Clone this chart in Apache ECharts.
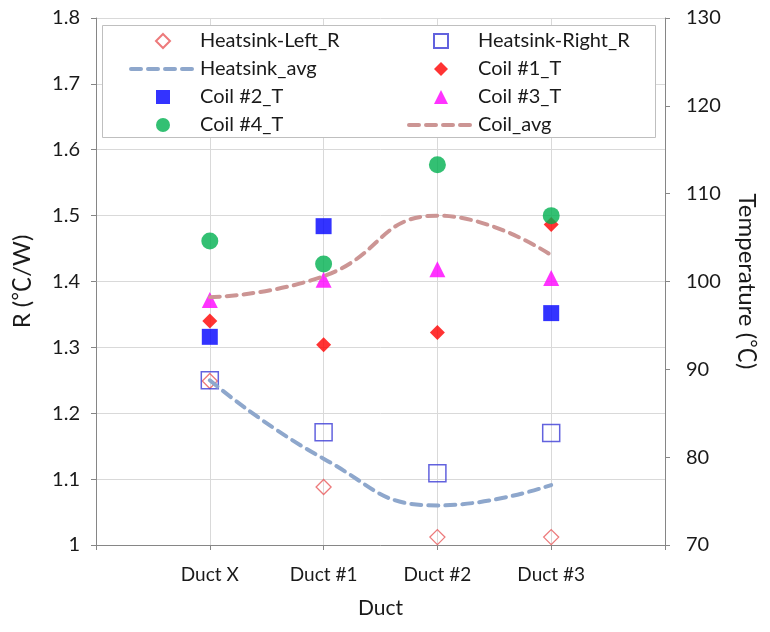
<!DOCTYPE html>
<html><head><meta charset="utf-8">
<script src="https://cdn.jsdelivr.net/npm/echarts@6/dist/echarts.min.js"></script>
<style>html,body{margin:0;padding:0;background:#fff}#c{width:770px;height:632px}</style>
</head><body><div id="c"></div>
<script>
// ---- data ----
const categories = ['Duct X', 'Duct #1', 'Duct #2', 'Duct #3'];
const heatsinkLeftR  = [1.249, 1.088, 1.012, 1.012];
const heatsinkRightR = [1.250, 1.171, 1.109, 1.170];
const heatsinkAvg    = [1.250, 1.131, 1.060, 1.091];
const coil1T = [95.5, 92.8, 94.2, 106.5];
const coil2T = [93.7, 106.3, null, 96.4];
const coil3T = [97.9, 100.2, 101.4, 100.4];
const coil4T = [104.6, 102.0, 113.3, 107.5];
const coilAvg = [98.2, 100.6, 107.5, 103.0];
const rAxisTicks = [1, 1.1, 1.2, 1.3, 1.4, 1.5, 1.6, 1.7, 1.8];
const tAxisTicks = [70, 80, 90, 100, 110, 120, 130];

// ---- helpers ----
const toPts = arr => arr.map((v, i) => [i + 1, v]).filter(p => p[1] !== null);
const FONT = 'Lato, "Noto Sans CJK JP", sans-serif';
const TXT = '#1a1a1a';
const AXC = '#868686';
const GRIDC = '#d9d9d9';
const ICON_DIAMOND = 'path://M5,0L10,5L5,10L0,5Z';
const ICON_RECT = 'path://M0,0H10V10H0Z';
const ICON_TRI = 'path://M5,0L10,10H0Z';

const chart = echarts.init(document.getElementById('c'));
const legendCommon = {
  orient: 'vertical',
  top: 26,
  itemWidth: 64,
  itemHeight: 14,
  itemGap: 8,
  selectedMode: false,
  symbolKeepAspect: true,
  z: 10,
  textStyle: { fontFamily: FONT, fontSize: 20, color: TXT }
};
const lineLegend = name => ({ name: name, itemStyle: { opacity: 0 }, lineStyle: { width: 4 } });
const symLegend = (name, icon, h) => ({ name: name, icon: icon });

chart.setOption({
  animation: false,
  backgroundColor: '#fff',
  grid: { left: 96, right: 105, top: 18, bottom: 87 },
  graphic: {
    elements: [{
      type: 'rect', z: 3,
      shape: { x: 102.5, y: 25.5, width: 553, height: 112 },
      style: { fill: '#fff', stroke: '#bfbfbf', lineWidth: 1 }
    }]
  },
  legend: [
    Object.assign({}, legendCommon, { left: 124, data: [
      symLegend('Heatsink-Left_R', ICON_DIAMOND), lineLegend('Heatsink_avg'),
      symLegend('Coil #2_T', ICON_RECT), symLegend('Coil #4_T', 'circle')] }),
    Object.assign({}, legendCommon, { left: 402, data: [
      symLegend('Heatsink-Right_R', ICON_RECT), symLegend('Coil #1_T', ICON_DIAMOND),
      symLegend('Coil #3_T', ICON_TRI), lineLegend('Coil_avg')] })
  ],
  xAxis: {
    type: 'value', min: 0, max: categories.length + 1, interval: 1,
    name: 'Duct', nameLocation: 'middle', nameGap: 53,
    nameTextStyle: { fontFamily: FONT, fontSize: 21, color: TXT },
    axisLine: { lineStyle: { color: AXC } },
    axisTick: { show: true, length: 5, lineStyle: { color: AXC } },
    axisLabel: {
      margin: 20, fontFamily: FONT, fontSize: 19, color: TXT,
      formatter: v => categories[v - 1] || ''
    },
    splitLine: { show: true, lineStyle: { color: GRIDC } }
  },
  yAxis: [{
    type: 'value', position: 'left',
    min: rAxisTicks[0], max: rAxisTicks[rAxisTicks.length - 1], interval: 0.1,
    name: 'R (℃/W)', nameLocation: 'middle', nameGap: 62, nameRotate: 90,
    nameTextStyle: { fontFamily: FONT, fontSize: 24, color: TXT },
    axisLine: { show: true, lineStyle: { color: AXC } },
    axisTick: { show: true, length: 5, lineStyle: { color: AXC } },
    axisLabel: { margin: 16, fontFamily: FONT, fontSize: 20, color: TXT,
      formatter: v => String(Math.round(v * 10) / 10) },
    splitLine: { show: true, lineStyle: { color: GRIDC } }
  }, {
    type: 'value', position: 'right',
    min: tAxisTicks[0], max: tAxisTicks[tAxisTicks.length - 1], interval: 10,
    name: 'Temperature (℃)', nameLocation: 'middle', nameGap: 70, nameRotate: -90,
    nameTextStyle: { fontFamily: FONT, fontSize: 24, color: TXT },
    axisLine: { show: true, lineStyle: { color: AXC } },
    axisTick: { show: true, length: 5, lineStyle: { color: AXC } },
    axisLabel: { margin: 21, fontFamily: FONT, fontSize: 20, color: TXT },
    splitLine: { show: false }
  }],
  series: [
    { name: 'Heatsink-Left_R', type: 'scatter', yAxisIndex: 0, symbol: 'diamond', symbolSize: 15,
      itemStyle: { color: 'rgba(255,255,255,0)', borderColor: '#e8595a', borderWidth: 1.3 },
      data: toPts(heatsinkLeftR) },
    { name: 'Heatsink-Right_R', type: 'scatter', yAxisIndex: 0, symbol: 'rect', symbolSize: 17,
      itemStyle: { color: 'rgba(255,255,255,0)', borderColor: '#3b3bd6', borderWidth: 1.5 },
      data: toPts(heatsinkRightR) },
    { name: 'Heatsink_avg', type: 'line', yAxisIndex: 0, smooth: true, symbol: 'none',
      lineStyle: { color: '#8ea7cc', width: 4, type: [10, 7], cap: 'round' },
      itemStyle: { color: '#8ea7cc' },
      data: toPts(heatsinkAvg) },
    { name: 'Coil #1_T', type: 'scatter', yAxisIndex: 1, symbol: 'diamond', symbolSize: 15,
      itemStyle: { color: '#ff0000' }, data: toPts(coil1T) },
    { name: 'Coil #2_T', type: 'scatter', yAxisIndex: 1, symbol: 'rect', symbolSize: 16,
      itemStyle: { color: '#0000ff' }, data: toPts(coil2T) },
    { name: 'Coil #3_T', type: 'scatter', yAxisIndex: 1, symbol: 'triangle', symbolSize: 16,
      itemStyle: { color: '#ff00ff' }, data: toPts(coil3T) },
    { name: 'Coil #4_T', type: 'scatter', yAxisIndex: 1, symbol: 'circle', symbolSize: 17,
      itemStyle: { color: '#00b050' }, data: toPts(coil4T) },
    { name: 'Coil_avg', type: 'line', yAxisIndex: 1, smooth: true, symbol: 'none',
      lineStyle: { color: '#cc9594', width: 4, type: [10, 7], cap: 'round' },
      itemStyle: { color: '#cc9594' },
      data: toPts(coilAvg) }
  ]
});
</script>
</body></html>
